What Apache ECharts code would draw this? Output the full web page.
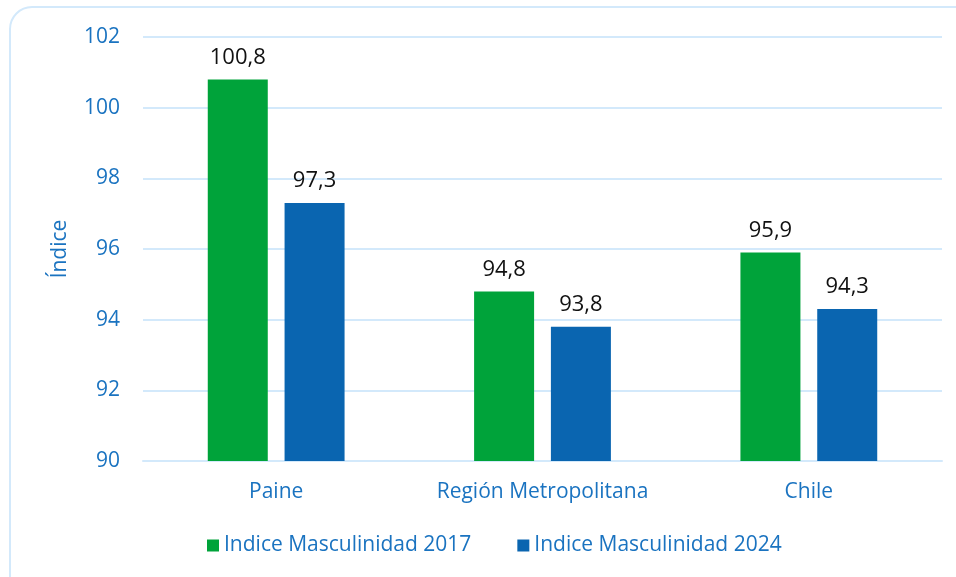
<!DOCTYPE html>
<html lang="es">
<head>
<meta charset="UTF-8">
<title>Indice Masculinidad</title>
<script src="https://cdn.jsdelivr.net/npm/echarts@6/dist/echarts.min.js"></script>
<style>
  html, body { margin: 0; padding: 0; background: #fff; }
  #main { width: 956px; height: 577px; }
</style>
</head>
<body>
<div id="main"></div>
<script type="text/javascript">
    var categorias = ['Paine', 'Región Metropolitana', 'Chile'];
    var serie2017 = [100.8, 94.8, 95.9];
    var serie2024 = [97.3, 93.8, 94.3];
    var nombres = ['Indice Masculinidad 2017', 'Indice Masculinidad 2024'];

    var azulTexto = '#1a73c0';
    var fuente = '"Open Sans", "Noto Sans", sans-serif';

    var chart = echarts.init(document.getElementById('main'));

    // etiqueta con coma decimal
    function coma(p) {
        return p.value.toFixed(1).replace('.', ',');
    }

    var option = {
        animation: false,
        textStyle: { fontFamily: fuente },
        graphic: [{
            type: 'rect',
            shape: { x: 10, y: 7, width: 970, height: 600, r: 22 },
            style: { fill: 'none', stroke: '#d3e9fb', lineWidth: 2 },
            silent: true
        }],
        grid: { left: 143, right: 14, top: 37, bottom: 116 },
        legend: {
            bottom: 16,
            left: 202,
            itemWidth: 12,
            itemHeight: 12,
            itemGap: 46,
            icon: 'rect',
            textStyle: { color: azulTexto, fontSize: 21, fontFamily: fuente },
            data: nombres
        },
        xAxis: {
            type: 'category',
            data: categorias,
            axisLine: { lineStyle: { color: '#d3e9fb', width: 2 } },
            axisTick: { show: false },
            axisLabel: { color: azulTexto, fontSize: 21, margin: 21, interval: 0, hideOverlap: false, fontFamily: fuente }
        },
        yAxis: {
            type: 'value',
            min: 90,
            max: 102,
            interval: 2,
            name: 'Índice',
            nameLocation: 'middle',
            nameGap: 72,
            nameTextStyle: { color: azulTexto, fontSize: 21, fontFamily: fuente },
            axisLine: { show: false },
            axisTick: { show: false },
            axisLabel: { color: azulTexto, fontSize: 21, margin: 23, fontFamily: fuente },
            splitLine: { lineStyle: { color: '#d3e9fb', width: 2 } }
        },
        series: [{
            name: nombres[0],
            type: 'bar',
            data: serie2017,
            barWidth: 60,
            barGap: '28%',
            itemStyle: { color: '#00a33a' },
            label: { show: true, position: 'top', distance: 11, color: '#111', fontSize: 22, fontFamily: fuente, formatter: coma }
        }, {
            name: nombres[1],
            type: 'bar',
            data: serie2024,
            barWidth: 60,
            itemStyle: { color: '#0a65b0' },
            label: { show: true, position: 'top', distance: 11, color: '#111', fontSize: 22, fontFamily: fuente, formatter: coma }
        }]
    };

    chart.setOption(option);
</script>
</body>
</html>
